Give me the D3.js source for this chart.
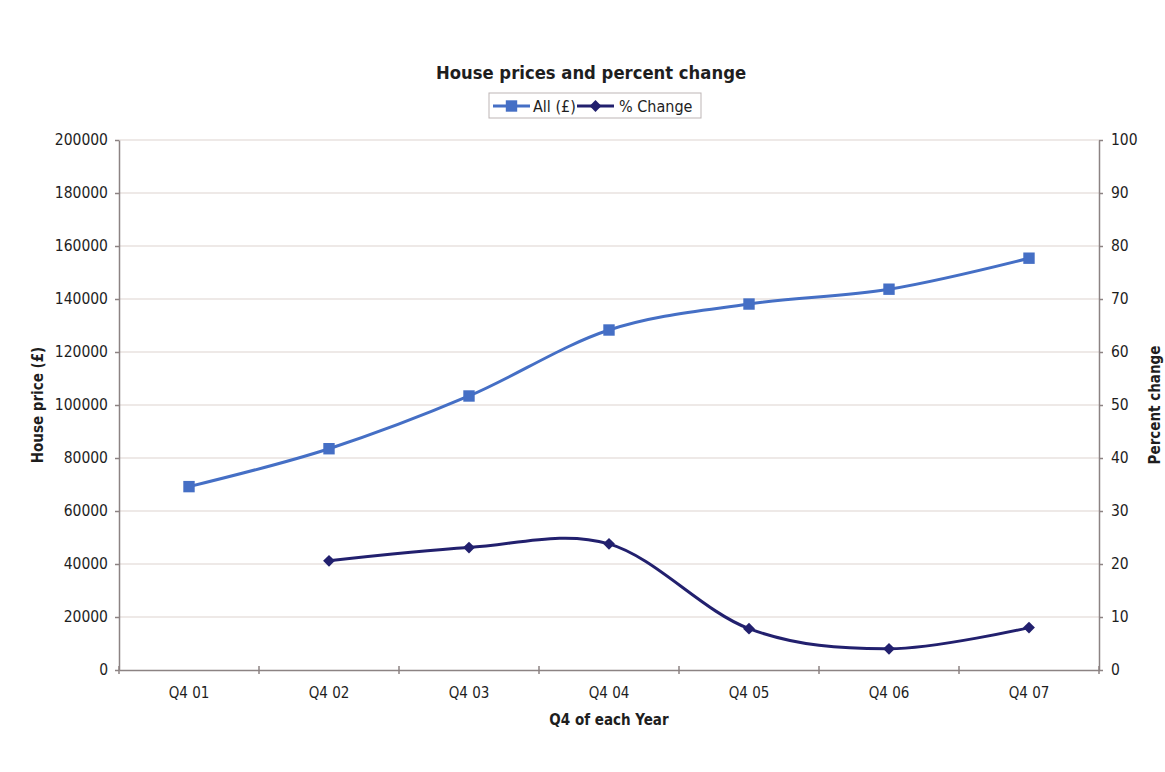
<!DOCTYPE html>
<html>
<head>
<meta charset="utf-8">
<script src="https://cdn.jsdelivr.net/npm/d3@7"></script>
<style>
  body { margin: 0; background: #fff; }
  svg text { font-family: "DejaVu Sans Condensed", "DejaVu Sans", sans-serif; fill: #1e1e1e; }
  .grid line { stroke: #ddd3cf; stroke-width: 1.2; }
  .axis path, .axis line { stroke: #8c8383; stroke-width: 1.5; }
</style>
</head>
<body>
<div id="chart"></div>
<script>

var width = 1165,
    height = 772;

// chart data
var quarters = ["Q4 01", "Q4 02", "Q4 03", "Q4 04", "Q4 05", "Q4 06", "Q4 07"];
var allPrice = [69200, 83500, 103400, 128300, 138100, 143700, 155400];
var pctChange = [null, 20.6, 23.1, 23.8, 7.8, 4.0, 8.0];

var priceTicks = [0, 20000, 40000, 60000, 80000, 100000, 120000, 140000, 160000, 180000, 200000];
var pctTicks = [0, 10, 20, 30, 40, 50, 60, 70, 80, 90, 100];

var margin = { top: 140, right: 66, bottom: 102, left: 119 };

var svg = d3.select("#chart").append("svg")
    .attr("width", width)
    .attr("height", height);

var x = d3.scaleBand()
    .domain(quarters)
    .range([margin.left, width - margin.right]);

var yL = d3.scaleLinear()
    .domain([0, 200000])
    .range([height - margin.bottom, margin.top]);

var yR = d3.scaleLinear()
    .domain([0, 100])
    .range([height - margin.bottom, margin.top]);

var cx = function(d, i) { return x(quarters[i]) + x.bandwidth() / 2; };

// horizontal gridlines
svg.append("g")
    .attr("class", "grid")
  .selectAll("line")
    .data(priceTicks.slice(1))
  .enter().append("line")
    .attr("x1", margin.left)
    .attr("x2", width - margin.right)
    .attr("y1", function(d) { return yL(d); })
    .attr("y2", function(d) { return yL(d); });

// left axis
var leftAxis = svg.append("g")
    .attr("class", "axis")
    .attr("transform", "translate(" + margin.left + ",0)")
    .call(d3.axisLeft(yL).tickValues(priceTicks).tickSize(4).tickSizeOuter(0).tickPadding(7).tickFormat(d3.format("d")));
leftAxis.selectAll("text").style("font-size", "15.5px");

// right axis
var rightAxis = svg.append("g")
    .attr("class", "axis")
    .attr("transform", "translate(" + (width - margin.right) + ",0)")
    .call(d3.axisRight(yR).tickValues(pctTicks).tickSize(4).tickSizeOuter(0).tickPadding(8));
rightAxis.selectAll("text").style("font-size", "15.5px");

// bottom axis: labels centred in bands, ticks on band edges
var bottomAxis = svg.append("g")
    .attr("class", "axis")
    .attr("transform", "translate(0," + (height - margin.bottom) + ")")
    .call(d3.axisBottom(x).tickSize(0).tickPadding(17));
bottomAxis.selectAll("text").style("font-size", "15px");

var edges = quarters.map(function(q) { return x(q); }).concat([x.range()[1]]);
bottomAxis.selectAll(".edge")
    .data(edges)
  .enter().append("line")
    .attr("class", "edge")
    .attr("x1", function(d) { return d; })
    .attr("x2", function(d) { return d; })
    .attr("y1", -4)
    .attr("y2", 4);

// series lines
var priceLine = d3.line()
    .x(cx)
    .y(function(d) { return yL(d); })
    .curve(d3.curveCatmullRom.alpha(0));

var pctLine = d3.line()
    .defined(function(d) { return d !== null; })
    .x(cx)
    .y(function(d) { return yR(d); })
    .curve(d3.curveCatmullRom.alpha(0));

var blue = "#456fc5",
    navy = "#22206e";

svg.append("path")
    .datum(allPrice)
    .attr("fill", "none")
    .attr("stroke", blue)
    .attr("stroke-width", 3)
    .attr("d", priceLine);

svg.append("path")
    .datum(pctChange)
    .attr("fill", "none")
    .attr("stroke", navy)
    .attr("stroke-width", 3)
    .attr("d", pctLine);

// markers (diamond = square turned 45 degrees)
var square = d3.symbol().type(d3.symbolSquare).size(130),
    diamond = d3.symbol().type(d3.symbolSquare).size(70);

svg.selectAll(".sq")
    .data(allPrice)
  .enter().append("path")
    .attr("class", "sq")
    .attr("d", square)
    .attr("fill", blue)
    .attr("transform", function(d, i) { return "translate(" + cx(d, i) + "," + yL(d) + ")"; });

svg.selectAll(".dm")
    .data(pctChange.map(function(v, i) { return { v: v, i: i }; })
      .filter(function(d) { return d.v !== null; }))
  .enter().append("path")
    .attr("class", "dm")
    .attr("d", diamond)
    .attr("fill", navy)
    .attr("transform", function(d) { return "translate(" + cx(d, d.i) + "," + yR(d.v) + ") rotate(45)"; });

// title
svg.append("text")
    .attr("x", 591)
    .attr("y", 79)
    .attr("text-anchor", "middle")
    .style("font-size", "18.3px")
    .style("font-weight", "bold")
    .text("House prices and percent change");

// axis titles
svg.append("text")
    .attr("transform", "translate(43," + yL(100000) + ") rotate(-90)")
    .attr("text-anchor", "middle")
    .style("font-size", "15px")
    .style("font-weight", "bold")
    .text("House price (£)");

svg.append("text")
    .attr("transform", "translate(1160," + yR(50) + ") rotate(-90)")
    .attr("text-anchor", "middle")
    .style("font-size", "15px")
    .style("font-weight", "bold")
    .text("Percent change");

svg.append("text")
    .attr("x", (x.range()[0] + x.range()[1]) / 2)
    .attr("y", 725)
    .attr("text-anchor", "middle")
    .style("font-size", "15px")
    .style("font-weight", "bold")
    .text("Q4 of each Year");

// legend
var legend = svg.append("g").attr("transform", "translate(489,93)");

legend.append("rect")
    .attr("width", 212)
    .attr("height", 25)
    .attr("fill", "#fff")
    .attr("stroke", "#bdb5b5");

var items = [
  { name: "All (£)", color: blue, sym: square, rot: 0, x0: 4, tx: 44 },
  { name: "% Change", color: navy, sym: diamond, rot: 45, x0: 88, tx: 130 }
];

var li = legend.selectAll(".li")
    .data(items)
  .enter().append("g")
    .attr("class", "li");

li.append("line")
    .attr("x1", function(d) { return d.x0; })
    .attr("x2", function(d) { return d.x0 + 37; })
    .attr("y1", 13)
    .attr("y2", 13)
    .attr("stroke", function(d) { return d.color; })
    .attr("stroke-width", 3);

li.append("path")
    .attr("d", function(d) { return d.sym(); })
    .attr("fill", function(d) { return d.color; })
    .attr("transform", function(d) { return "translate(" + (d.x0 + 18.5) + ",13) rotate(" + d.rot + ")"; });

li.append("text")
    .attr("x", function(d) { return d.tx; })
    .attr("y", 18.5)
    .style("font-size", "16px")
    .text(function(d) { return d.name; });

</script>
</body>
</html>
